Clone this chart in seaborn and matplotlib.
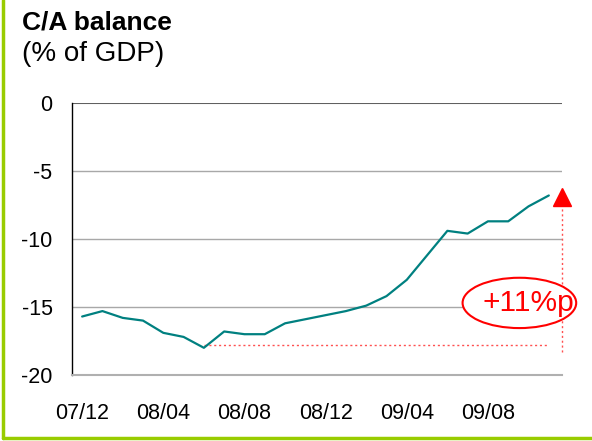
import numpy as np
import pandas as pd
import matplotlib
matplotlib.use("Agg")
import matplotlib.pyplot as plt
import seaborn as sns
from matplotlib.patches import Ellipse
from matplotlib.lines import Line2D


# Dane: saldo rachunku bieżącego (% PKB), miesięcznie
months = ["07/12", "08/01", "08/02", "08/03", "08/04", "08/05", "08/06", "08/07",
          "08/08", "08/09", "08/10", "08/11", "08/12", "09/01", "09/02", "09/03",
          "09/04", "09/05", "09/06", "09/07", "09/08", "09/09", "09/10", "09/11"]
balance = [-15.7, -15.3, -15.8, -16.0, -16.9, -17.2, -18.0, -16.8,
           -17.0, -17.0, -16.2, -15.9, -15.6, -15.3, -14.9, -14.2,
           -13.0, -11.2, -9.4, -9.6, -8.7, -8.7, -7.6, -6.8]
tick_labels = ["07/12", "08/04", "08/08", "08/12", "09/04", "09/08"]
y_ticks = [0, -5, -10, -15, -20]
trough_level = -17.8
change_label = "+11%p"

df = pd.DataFrame({"month": months, "balance": balance})
df["idx"] = range(len(df))

sns.set_style("white")
plt.rcParams['font.family'] = ['Liberation Sans', 'DejaVu Sans']
plt.rcParams['text.color'] = 'black'

fig = plt.figure(figsize=(5.92, 4.41), dpi=100)
ax = fig.add_axes([72 / 592, 1 - 375 / 441, 490 / 592, 272 / 441])

sns.lineplot(data=df, x="idx", y="balance", color="#008080", linewidth=1.6, ax=ax)

# Linie siatki
for v in y_ticks[1:-1]:
    ax.axhline(v, color="#a8a8a8", linewidth=1.0, zorder=0)
ax.axhline(0, color="#606060", linewidth=1.5, zorder=0)

x_right = len(months) - 0.35
ax.set_xlim(-0.5, x_right)
ax.set_ylim(-20, 0)

# Kropkowane linie z dołka do strzałki
low_i = int(np.argmin(balance))
ax.plot([low_i, len(months) - 1], [trough_level, trough_level], color="#ff5050",
        linestyle=(0, (1.5, 2)), linewidth=1.0, zorder=1)
ax.plot([x_right, x_right], [-18.3, -7.3], color="#ff5050",
        linestyle=(0, (1.5, 2)), linewidth=1.0, zorder=1, clip_on=False)
ax.plot([x_right], [-6.9], marker="^", color="#ff0000", markersize=13,
        clip_on=False, zorder=5)

ell = Ellipse((21.55, -14.7), 5.6, 3.7, facecolor="white", edgecolor="#ff0000",
              linewidth=1.5, clip_on=False, zorder=3)
ax.add_patch(ell)
ax.text(22.0, -14.7, change_label, color="#ff0000", fontsize=21.5,
        ha="center", va="center", zorder=4, clip_on=False)

ax.set_xticks([months.index(t) for t in tick_labels])
ax.set_xticklabels(tick_labels)
ax.set_yticks(y_ticks)
ax.set_yticklabels([str(v) for v in y_ticks])
ax.tick_params(axis="both", length=0, labelsize=15.5, colors="black")
ax.tick_params(axis="y", pad=14)
ax.tick_params(axis="x", pad=20)
ax.set_xlabel("")
ax.set_ylabel("")

for s in ["top", "right"]:
    ax.spines[s].set_visible(False)
ax.spines["left"].set_color("black")
ax.spines["left"].set_linewidth(1.0)
ax.spines["bottom"].set_color("#b0b0b0")
ax.spines["bottom"].set_linewidth(1.5)

# Tytuł
fig.text(22 / 592, 1 - 29 / 441, "C/A balance", fontsize=19, fontweight="bold",
         ha="left", va="baseline")
fig.text(22 / 592, 1 - 61 / 441, "(% of GDP)", fontsize=20, ha="left", va="baseline")

# Zielona ramka
green = "#99cc00"
fig.add_artist(Line2D([3 / 592, 3 / 592], [1.0, 3 / 441], transform=fig.transFigure,
                      color=green, linewidth=2.5))
fig.add_artist(Line2D([3 / 592, 1.0], [3 / 441, 3 / 441], transform=fig.transFigure,
                      color=green, linewidth=2.5))

fig.savefig("out.png", dpi=100)
